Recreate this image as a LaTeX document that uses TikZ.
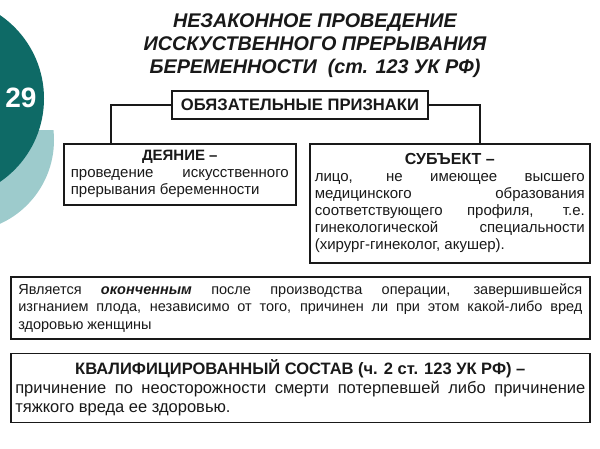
\documentclass[tikz,border=0pt]{standalone}
\usepackage{fontspec}
\setmainfont{Liberation Sans}
\usetikzlibrary{positioning}
\definecolor{tealdark}{RGB}{14,106,102}
\definecolor{teallight}{RGB}{157,203,204}
\definecolor{ink}{RGB}{25,25,25}
\tolerance=10000
\hyphenpenalty=10000
\exhyphenpenalty=10000

\begin{document}
\begin{tikzpicture}[x=1pt,y=-1pt,thick,
    frame node/.style={draw=ink,line width=1.6pt,anchor=north west,align=justify,inner xsep=7pt,inner ysep=2pt,text=ink,font=\fontsize{15}{17}\selectfont},
    link/.style={draw=ink,line width=1.6pt}]

                \useasboundingbox (0,0) rectangle (600,448);
                \fill[white] (0,0) rectangle (600,448);
                \begin{scope}
                \clip (0,130) rectangle (120,448);
                \fill[teallight] (-38,140) circle (92pt);
                \end{scope}
                \begin{scope}
                \clip (0,0) rectangle (120,448);
                \fill[tealdark] (-57,98.5) circle (101pt);
                \end{scope}
                \node[text=white,font=\bfseries\fontsize{28}{28}\selectfont] (num) at (21,98) {29};

                \node[align=center,text=ink,font=\bfseries\itshape\fontsize{19.8}{23}\selectfont] (title) at (315,46) {НЕЗАКОННОЕ ПРОВЕДЕНИЕ\\ИССКУСТВЕННОГО ПРЕРЫВАНИЯ\\БЕРЕМЕННОСТИ\ \ (ст. 123 УК РФ)};

                \node[draw=ink,line width=1.6pt,minimum width=256pt,minimum height=28pt,text=ink,font=\bfseries\fontsize{16.6}{19}\selectfont] (oblig) at (300,105) {ОБЯЗАТЕЛЬНЫЕ ПРИЗНАКИ};

                \node[frame node,text width=218pt,minimum height=61pt] (act) at (63,143) {{\centering\bfseries\fontsize{15}{17}\selectfont ДЕЯНИЕ –\par}проведение искусственного\linebreak прерывания беременности};
                \node[frame node,inner xsep=5pt,text width=270pt,minimum height=119pt] (subj) at (309,143) {{\centering\bfseries\fontsize{16}{17}\selectfont СУБЪЕКТ –\par}лицо, не имеющее высшего\linebreak медицинского образования\linebreak соответствующего профиля, т.е.\linebreak гинекологической специальности\linebreak (хирург-гинеколог, акушер).};

                \node[frame node,inner xsep=7.5pt,text width=564pt,minimum height=62pt,font=\fontsize{14.5}{17.5}\selectfont] (done) at (10,276) {Является \textbf{\textit{оконченным}} после производства операции, завершившейся\linebreak изгнанием плода, независимо от того, причинен ли при этом какой-либо вред\linebreak здоровью женщины};
                \node[frame node,inner xsep=4.5pt,text width=570pt,minimum height=69pt,font=\fontsize{16.5}{19}\selectfont,below=13pt of done] (qual) {{\centering\bfseries КВАЛИФИЦИРОВАННЫЙ СОСТАВ (ч. 2 ст. 123 УК РФ) –\par}причинение по неосторожности смерти потерпевшей либо причинение\linebreak тяжкого вреда ее здоровью.};

                \draw[link] (oblig.west) -| ([xshift=48pt]act.north west);
                \draw[link] (oblig.east) -| ([xshift=171pt]subj.north west);

\end{tikzpicture}
\end{document}
